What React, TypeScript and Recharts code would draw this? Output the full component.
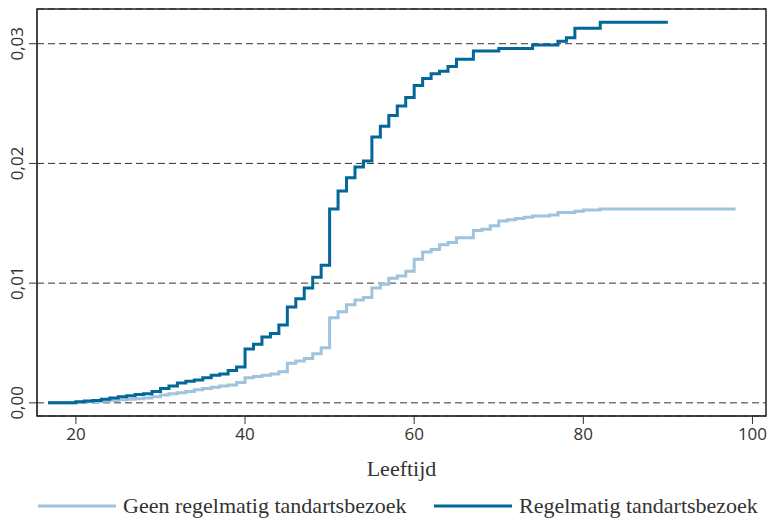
import { LineChart, Line, XAxis, YAxis, CartesianGrid, Legend, ReferenceArea } from "recharts"

// cumulatieve incidentie per leeftijd
const lightAges = [16.7, 20, 21, 22, 23, 24, 25, 26, 27, 28, 29, 30, 31, 32, 33, 34, 35, 36, 37, 38, 39, 40, 41, 42, 43, 44, 45, 46, 47, 48, 49, 50, 51, 52, 53, 54, 55, 56, 57, 58, 59, 60, 61, 62, 63, 64, 65, 67, 68, 69, 70, 71, 72, 73, 74, 76, 77, 79, 80, 82, 98]
const lightValues = [0, 0.00005, 0.0001, 0.00012, 0.00015, 0.0002, 0.00025, 0.0003, 0.00035, 0.0004, 0.0005, 0.00065, 0.00075, 0.00085, 0.00095, 0.0011, 0.0012, 0.0013, 0.0014, 0.0015, 0.0017, 0.0021, 0.0022, 0.0023, 0.0024, 0.0026, 0.0033, 0.0035, 0.0037, 0.0041, 0.0046, 0.0071, 0.0076, 0.0082, 0.0086, 0.0088, 0.0096, 0.0099, 0.0104, 0.0106, 0.011, 0.012, 0.0126, 0.0128, 0.0132, 0.0134, 0.0138, 0.0144, 0.0145, 0.0148, 0.0152, 0.0153, 0.0154, 0.0155, 0.0156, 0.0157, 0.0159, 0.016, 0.0161, 0.0162, 0.0162]

const darkAges = [16.7, 20, 21, 22, 23, 24, 25, 26, 27, 28, 29, 30, 31, 32, 33, 34, 35, 36, 37, 38, 39, 40, 41, 42, 43, 44, 45, 46, 47, 48, 49, 50, 51, 52, 53, 54, 55, 56, 57, 58, 59, 60, 61, 62, 63, 64, 65, 67, 70, 74, 77, 78, 79, 82, 90]
const darkValues = [0, 0.0001, 0.00015, 0.0002, 0.0003, 0.0004, 0.0005, 0.0006, 0.0007, 0.00075, 0.00095, 0.0012, 0.0014, 0.00165, 0.0018, 0.0019, 0.0021, 0.0023, 0.0024, 0.0027, 0.003, 0.0045, 0.0049, 0.0055, 0.0058, 0.0065, 0.008, 0.0087, 0.0096, 0.0105, 0.0115, 0.0162, 0.0177, 0.0188, 0.0197, 0.0202, 0.0222, 0.0231, 0.024, 0.0248, 0.0255, 0.0265, 0.0271, 0.0275, 0.0277, 0.0281, 0.0287, 0.0294, 0.0296, 0.0299, 0.0302, 0.0305, 0.0313, 0.0318, 0.0318]

const xTicks = [20, 40, 60, 80, 100]
const yTicks = [0, 0.01, 0.02, 0.03]
const xDomain = [15.4, 101.6]
const yDomain = [-0.0011, 0.0329]

const LIGHT = "#9fc4de"
const DARK = "#03679a"

const lightData = lightAges.map((age, i) => ({ age, value: lightValues[i] }))
const darkData = darkAges.map((age, i) => ({ age, value: darkValues[i] }))

const fmt = (v: number) => v.toFixed(2).replace(".", ",")

function YTick({ x, y, payload }: any) {
  const cx = x - 10
  return (
    <text
      x={cx}
      y={y}
      transform={`rotate(-90, ${cx}, ${y})`}
      textAnchor="middle"
      dominantBaseline="central"
      fontFamily="'Open Sans', sans-serif"
      fontSize={17}
      fill="#333"
    >
      {fmt(payload.value)}
    </text>
  )
}

function LegendContent() {
  const items = [
    { label: "Geen regelmatig tandartsbezoek", color: LIGHT, width: 396 },
    { label: "Regelmatig tandartsbezoek", color: DARK, width: 330 },
  ]
  return (
    <div style={{ display: "flex", paddingLeft: 38, height: 24, alignItems: "center" }}>
      {items.map((it) => (
        <div key={it.label} style={{ display: "flex", alignItems: "center", width: it.width }}>
          <svg width={78} height={6}>
            <line x1={0} y1={3} x2={78} y2={3} stroke={it.color} strokeWidth={3} />
          </svg>
          <span
            style={{
              marginLeft: 7,
              fontFamily: "'Liberation Serif', serif",
              fontSize: 22,
              color: "#333",
              whiteSpace: "nowrap",
            }}
          >
            {it.label}
          </span>
        </div>
      ))}
    </div>
  )
}

export default function App() {
  return (
    <div style={{ position: "absolute", left: 0, top: 0, background: "#fff" }}>
      <LineChart width={770} height={518} margin={{ top: 9, right: 4, bottom: 0, left: 0 }}>
        <CartesianGrid vertical={false} stroke="#333" strokeDasharray="7 4" />
        <XAxis
          dataKey="age"
          type="number"
          domain={xDomain}
          ticks={xTicks}
          allowDataOverflow
          height={78}
          tickSize={8}
          tickMargin={4}
          stroke="#333"
          tick={{ fontFamily: "'Open Sans', sans-serif", fontSize: 17, fill: "#333" }}
          label={{
            value: "Leeftijd",
            position: "insideBottom",
            offset: 18,
            style: { fontFamily: "'Liberation Serif', serif", fontSize: 22, fill: "#333" },
          }}
        />
        <YAxis
          type="number"
          domain={yDomain}
          ticks={yTicks}
          allowDataOverflow
          width={37}
          tickSize={8}
          stroke="#333"
          tick={<YTick />}
        />
        <ReferenceArea
          x1={xDomain[0]}
          x2={xDomain[1]}
          y1={yDomain[0]}
          y2={yDomain[1]}
          fill="none"
          stroke="#222"
          strokeWidth={1.5}
        />
        <Line
          data={lightData}
          dataKey="value"
          type="stepAfter"
          stroke={LIGHT}
          strokeWidth={3}
          dot={false}
          isAnimationActive={false}
        />
        <Line
          data={darkData}
          dataKey="value"
          type="stepAfter"
          stroke={DARK}
          strokeWidth={3}
          dot={false}
          isAnimationActive={false}
        />
        <Legend
          verticalAlign="bottom"
          content={<LegendContent />}
          wrapperStyle={{ left: 0, width: 770, height: 24, bottom: 0 }}
        />
      </LineChart>
    </div>
  )
}
